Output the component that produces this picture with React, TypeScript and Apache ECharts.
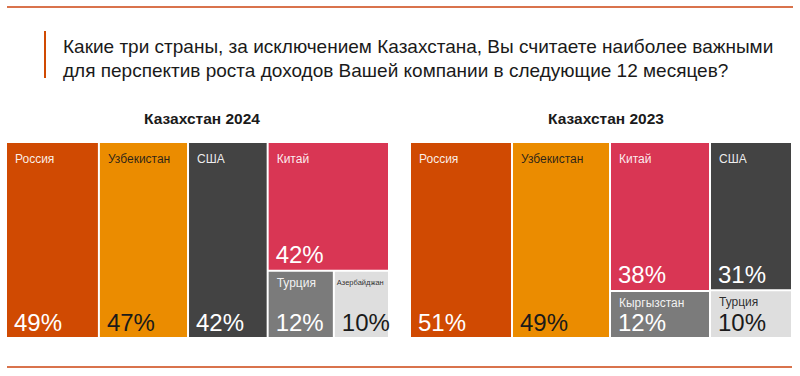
import React, { useEffect, useRef } from "react";
import * as echarts from "echarts";

// ---- data ----
const question = [
  "Какие три страны, за исключением Казахстана, Вы считаете наиболее важными",
  "для перспектив роста доходов Вашей компании в следующие 12 месяцев?",
];
const panelTitles = ["Казахстан 2024", "Казахстан 2023"];

const countries2024 = ["Россия", "Узбекистан", "США", "Китай", "Турция", "Азербайджан"];
const shares2024 = [49, 47, 42, 42, 12, 10];
// columns: [topIndex, bottomRowIndices?]
const columns2024: [number, number[]?][] = [[0], [1], [2], [3, [4, 5]]];

const countries2023 = ["Россия", "Узбекистан", "Китай", "Кыргызстан", "США", "Турция"];
const shares2023 = [51, 49, 38, 12, 31, 10];
const columns2023: [number, number[]?][] = [[0], [1], [2, [3]], [4, [5]]];

// ---- styles ----
const fills2024 = ["#D04A02", "#EB8C00", "#434343", "#D93654", "#7B7B7B", "#DEDEDE"];
const fills2023 = ["#D04A02", "#EB8C00", "#D93654", "#7B7B7B", "#434343", "#DEDEDE"];
const ink2024 = ["#FFFFFF", "#1A1A1A", "#FFFFFF", "#FFFFFF", "#FFFFFF", "#1A1A1A"];
const ink2023 = ["#FFFFFF", "#1A1A1A", "#FFFFFF", "#FFFFFF", "#FFFFFF", "#1A1A1A"];
const nameSizes2024 = [12, 12, 12, 12, 12, 7.5];
const nameSizes2023 = [12, 12, 12, 12, 12, 12];

const FONT = "Liberation Sans, Arial, sans-serif";

type Cell = [number, number, number, number, number];

function layout(values: number[], columns: [number, number[]?][]): Cell[] {
  const cells: Cell[] = [];
  let x = 0;
  columns.forEach(([top, bottom]) => {
    const bottomIdx = bottom || [];
    const bottomSum = bottomIdx.reduce((s, i) => s + values[i], 0);
    const colSum = values[top] + bottomSum;
    const split = values[top] / colSum;
    cells.push([x, x + colSum, 0, split, top]);
    let bx = x;
    bottomIdx.forEach((i) => {
      const w = (values[i] / bottomSum) * colSum;
      cells.push([bx, bx + w, split, 1, i]);
      bx += w;
    });
    x += colSum;
  });
  return cells;
}

function makeSeries(
  gridIndex: number,
  names: string[],
  values: number[],
  columns: [number, number[]?][],
  fills: string[],
  inks: string[],
  nameSizes: number[]
) {
  const cells = layout(values, columns);
  return {
    type: "custom",
    xAxisIndex: gridIndex,
    yAxisIndex: gridIndex,
    data: cells,
    renderItem: (params: any, api: any) => {
      const i = api.value(4);
      const p0 = api.coord([api.value(0), api.value(2)]);
      const p1 = api.coord([api.value(1), api.value(3)]);
      const x = p0[0] + 1;
      const y = p0[1] + 1;
      const w = p1[0] - p0[0] - 2;
      const h = p1[1] - p0[1] - 2;
      const nameOff = h < 80 ? 11 : 16;
      const pad = nameSizes[i] < 10 ? 2 : 8;
      return {
        type: "group",
        children: [
          { type: "rect", shape: { x, y, width: w, height: h }, style: { fill: fills[i] } },
          {
            type: "text",
            x: x + pad,
            y: y + nameOff,
            style: {
              text: names[i],
              fill: inks[i],
              fontSize: nameSizes[i],
              fontFamily: FONT,
              verticalAlign: "middle",
              opacity: 0.92,
            },
          },
          {
            type: "text",
            x: x + 7,
            y: y + h - 15,
            style: {
              text: values[i] + "%",
              fill: inks[i],
              fontSize: 24,
              fontFamily: FONT,
              verticalAlign: "middle",
            },
          },
        ],
      };
    },
  };
}

export default function App() {
  const ref = useRef<HTMLDivElement>(null);
  useEffect(() => {
    document.body.style.margin = "0";
    const chart = echarts.init(ref.current!, null, { renderer: "svg" });
    const total2024 = shares2024.reduce((s, v) => s + v, 0);
    const total2023 = shares2023.reduce((s, v) => s + v, 0);
    const subStyle = { fontSize: 15.5, fontWeight: "bold", color: "#1A1A1A", fontFamily: FONT };
    chart.setOption({
      animation: false,
      title: [
        { text: panelTitles[0], left: 197, top: 105, textAlign: "center", textStyle: subStyle },
        { text: panelTitles[1], left: 601, top: 105, textAlign: "center", textStyle: subStyle },
      ],
      grid: [
        { left: 6, top: 142, width: 383, height: 196 },
        { left: 410, top: 142, width: 382, height: 196 },
      ],
      xAxis: [
        { type: "value", gridIndex: 0, min: 0, max: total2024, show: false },
        { type: "value", gridIndex: 1, min: 0, max: total2023, show: false },
      ],
      yAxis: [
        { type: "value", gridIndex: 0, min: 0, max: 1, inverse: true, show: false },
        { type: "value", gridIndex: 1, min: 0, max: 1, inverse: true, show: false },
      ],
      graphic: [
        { type: "line", shape: { x1: 7, y1: 7, x2: 793, y2: 7 }, style: { stroke: "#D9734C", lineWidth: 2 } },
        { type: "line", shape: { x1: 7, y1: 367, x2: 792, y2: 367 }, style: { stroke: "#D9734C", lineWidth: 2 } },
        { type: "line", shape: { x1: 45, y1: 31, x2: 45, y2: 78 }, style: { stroke: "#D04A02", lineWidth: 2 } },
        {
          type: "text",
          left: 63,
          top: 34,
          style: {
            text: question.join("\n"),
            fill: "#1A1A1A",
            fontSize: 19,
            lineHeight: 24,
            fontFamily: FONT,
          },
        },
      ],
      series: [
        makeSeries(0, countries2024, shares2024, columns2024, fills2024, ink2024, nameSizes2024),
        makeSeries(1, countries2023, shares2023, columns2023, fills2023, ink2023, nameSizes2023),
      ],
    });
    return () => chart.dispose();
  }, []);
  return <div ref={ref} style={{ width: 800, height: 376 }} />;
}
